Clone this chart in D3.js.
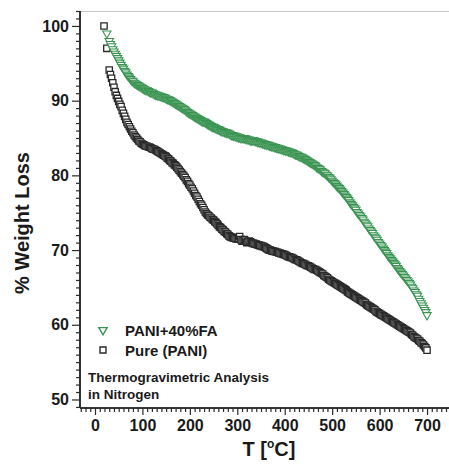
<!DOCTYPE html>
<html>
<head>
<meta charset="utf-8">
<script src="https://cdn.jsdelivr.net/npm/d3@7"></script>
<style>
  html, body { margin: 0; padding: 0; background: #fff; }
  svg { display: block; font-family: "Liberation Sans", Arial, sans-serif; }
</style>
</head>
<body>
<svg id="chart" width="449" height="470"></svg>
<script>
// Temperature grid (°C) shared by both samples
const temps = [
  30,32.5,35,37.5,40,42.5,45,47.5,50,52.5,
  55,57.5,60,62.5,65,67.5,70,72.5,75,77.5,
  80,82.5,85,87.5,90,92.5,95,97.5,100,102.5,
  105,107.5,110,112.5,115,117.5,120,122.5,125,127.5,
  130,132.5,135,137.5,140,142.5,145,147.5,150,152.5,
  155,157.5,160,162.5,165,167.5,170,172.5,175,177.5,
  180,182.5,185,187.5,190,192.5,195,197.5,200,202.5,
  205,207.5,210,212.5,215,217.5,220,222.5,225,227.5,
  230,232.5,235,237.5,240,242.5,245,247.5,250,252.5,
  255,257.5,260,262.5,265,267.5,270,272.5,275,277.5,
  280,282.5,285,287.5,290,292.5,295,297.5,300,302.5,
  305,307.5,310,312.5,315,317.5,320,322.5,325,327.5,
  330,332.5,335,337.5,340,342.5,345,347.5,350,352.5,
  355,357.5,360,362.5,365,367.5,370,372.5,375,377.5,
  380,382.5,385,387.5,390,392.5,395,397.5,400,402.5,
  405,407.5,410,412.5,415,417.5,420,422.5,425,427.5,
  430,432.5,435,437.5,440,442.5,445,447.5,450,452.5,
  455,457.5,460,462.5,465,467.5,470,472.5,475,477.5,
  480,482.5,485,487.5,490,492.5,495,497.5,500,502.5,
  505,507.5,510,512.5,515,517.5,520,522.5,525,527.5,
  530,532.5,535,537.5,540,542.5,545,547.5,550,552.5,
  555,557.5,560,562.5,565,567.5,570,572.5,575,577.5,
  580,582.5,585,587.5,590,592.5,595,597.5,600,602.5,
  605,607.5,610,612.5,615,617.5,620,622.5,625,627.5,
  630,632.5,635,637.5,640,642.5,645,647.5,650,652.5,
  655,657.5,660,662.5,665,667.5,670,672.5,675,677.5,
  680,682.5,685,687.5,690,692.5,695,697.5,700];

// Pure (PANI): first readings, then the run on the grid
const pureStartTemps = [19, 25];
const pureStartWeight = [100.0, 97.0];
const pureWeight = [
  94.1,93.5,93.0,92.4,91.8,91.2,90.7,90.3,89.9,89.5,
  89.2,88.7,88.3,87.9,87.5,87.1,86.8,86.5,86.2,85.9,
  85.7,85.4,85.2,85.0,84.8,84.6,84.5,84.3,84.2,84.1,
  84.0,83.9,83.9,83.8,83.8,83.7,83.6,83.5,83.5,83.4,
  83.3,83.2,83.1,83.0,82.9,82.8,82.7,82.6,82.5,82.3,
  82.2,82.0,81.9,81.7,81.6,81.4,81.3,81.1,80.9,80.7,
  80.5,80.3,80.1,79.9,79.7,79.4,79.2,78.9,78.7,78.4,
  78.2,77.9,77.6,77.3,77.1,76.8,76.5,76.2,76.0,75.7,
  75.4,75.1,74.9,74.7,74.6,74.4,74.3,74.1,74.0,73.8,
  73.7,73.5,73.3,73.1,73.0,72.8,72.7,72.5,72.4,72.2,
  72.1,71.9,71.8,71.7,71.7,71.6,71.6,71.5,71.5,71.6,
  71.8,71.4,71.2,71.3,71.4,71.2,71.0,71.1,71.2,71.1,
  71.0,70.9,70.9,70.8,70.8,70.7,70.7,70.6,70.6,70.5,
  70.5,70.4,70.3,70.2,70.1,70.0,70.0,69.9,69.9,69.8,
  69.8,69.7,69.7,69.6,69.6,69.5,69.5,69.4,69.4,69.3,
  69.2,69.1,69.1,69.0,69.0,68.9,68.8,68.7,68.7,68.6,
  68.5,68.4,68.3,68.2,68.2,68.1,68.0,67.9,67.9,67.8,
  67.7,67.6,67.5,67.4,67.4,67.3,67.2,67.1,67.0,66.9,
  66.8,66.6,66.5,66.4,66.3,66.1,66.0,65.9,65.8,65.7,
  65.6,65.5,65.4,65.3,65.2,65.1,65.0,64.9,64.8,64.7,
  64.6,64.4,64.3,64.2,64.1,64.0,63.9,63.8,63.7,63.6,
  63.5,63.4,63.3,63.2,63.1,63.0,62.9,62.7,62.6,62.5,
  62.4,62.3,62.2,62.1,62.0,61.8,61.7,61.6,61.5,61.4,
  61.3,61.2,61.1,61.0,60.9,60.8,60.7,60.6,60.5,60.4,
  60.3,60.2,60.1,60.0,59.9,59.8,59.7,59.6,59.5,59.4,
  59.3,59.2,59.1,59.0,58.9,58.7,58.6,58.4,58.3,58.2,
  58.1,57.9,57.8,57.6,57.5,57.3,57.1,56.9,56.6];

// PANI+40%FA: first reading, then the run on the grid
const faStartTemps = [25];
const faStartWeight = [99.0];
const faWeight = [
  98.0,97.6,97.3,96.9,96.6,96.3,96.0,95.7,95.4,95.1,
  94.8,94.5,94.3,94.0,93.8,93.5,93.3,93.1,92.9,92.7,
  92.6,92.4,92.3,92.2,92.1,92.0,91.9,91.8,91.7,91.6,
  91.5,91.4,91.4,91.3,91.2,91.1,91.1,91.0,90.9,90.8,
  90.8,90.7,90.7,90.6,90.6,90.5,90.5,90.4,90.3,90.2,
  90.2,90.1,90.0,89.9,89.8,89.7,89.6,89.5,89.4,89.3,
  89.2,89.1,89.0,88.9,88.8,88.6,88.5,88.4,88.3,88.2,
  88.1,88.0,87.9,87.8,87.7,87.6,87.5,87.4,87.3,87.2,
  87.2,87.1,87.0,86.9,86.8,86.7,86.6,86.5,86.5,86.4,
  86.3,86.2,86.2,86.1,86.0,85.9,85.9,85.8,85.8,85.7,
  85.7,85.6,85.5,85.4,85.4,85.3,85.3,85.2,85.2,85.1,
  85.1,85.0,85.0,85.0,85.0,84.9,84.9,84.8,84.8,84.7,
  84.7,84.7,84.7,84.6,84.6,84.5,84.5,84.4,84.4,84.3,
  84.3,84.2,84.2,84.1,84.1,84.0,84.0,83.9,83.9,83.8,
  83.8,83.7,83.7,83.6,83.6,83.5,83.5,83.4,83.4,83.3,
  83.3,83.2,83.2,83.1,83.1,83.0,82.9,82.8,82.8,82.7,
  82.6,82.5,82.5,82.4,82.3,82.2,82.1,82.0,81.9,81.8,
  81.7,81.6,81.5,81.4,81.3,81.1,81.0,80.9,80.8,80.6,
  80.5,80.4,80.3,80.1,80.0,79.8,79.7,79.5,79.3,79.1,
  79.0,78.8,78.6,78.4,78.3,78.1,77.9,77.7,77.5,77.3,
  77.1,76.9,76.7,76.4,76.2,76.0,75.8,75.6,75.4,75.1,
  74.9,74.7,74.5,74.3,74.1,73.8,73.6,73.4,73.2,72.9,
  72.7,72.5,72.3,72.0,71.8,71.6,71.4,71.1,70.9,70.7,
  70.5,70.2,70.0,69.8,69.6,69.3,69.1,68.9,68.7,68.5,
  68.3,68.1,67.9,67.6,67.4,67.2,67.0,66.8,66.6,66.4,
  66.2,66.0,65.8,65.6,65.4,65.1,64.9,64.6,64.4,64.1,
  63.9,63.5,63.2,62.9,62.6,62.3,62.0,61.7,61.3];

const xMajorTicks = [0,100,200,300,400,500,600,700];
const yMajorTicks = [50,60,70,80,90,100];
const seriesNames = ["PANI+40%FA", "Pure (PANI)"];

const svg = d3.select("#chart");
const plotLeft = 80, plotRight = 449, plotTop = 11, plotBottom = 408;

const x = d3.scaleLinear().domain([-31.6, 746.3]).range([plotLeft, plotRight]);
const y = d3.scaleLinear().domain([48.86, 102]).range([plotBottom, plotTop]);

const ink = "#2a2a2a";
const green = "#3a9452";

// top frame line
svg.append("line")
  .attr("x1", plotLeft).attr("x2", plotRight).attr("y1", plotTop + 0.5).attr("y2", plotTop + 0.5)
  .attr("stroke", "#c8c8c8").attr("stroke-width", 1.2);

// minor ticks
const xMinor = d3.range(-30, 750, 10).filter(v => v % 100 !== 0);
const yMinor = d3.range(49, 103, 1).filter(v => v % 10 !== 0);

const xMinorAxis = svg.append("g").attr("transform", `translate(0,${plotBottom})`)
  .call(d3.axisBottom(x).tickValues(xMinor).tickSize(4).tickFormat(""));
const yMinorAxis = svg.append("g").attr("transform", `translate(${plotLeft},0)`)
  .call(d3.axisLeft(y).tickValues(yMinor).tickSize(4).tickFormat(""));

const xAxis = svg.append("g").attr("transform", `translate(0,${plotBottom})`)
  .call(d3.axisBottom(x).tickValues(xMajorTicks).tickSize(7).tickPadding(5).tickFormat(d3.format("d")));
const yAxis = svg.append("g").attr("transform", `translate(${plotLeft},0)`)
  .call(d3.axisLeft(y).tickValues(yMajorTicks).tickSize(8).tickPadding(3).tickFormat(d3.format("d")));

[xMinorAxis, yMinorAxis, xAxis, yAxis].forEach(g => {
  g.select(".domain").attr("stroke", ink).attr("stroke-width", 1.6);
  g.selectAll(".tick line").attr("stroke", ink).attr("stroke-width", 1.2);
  g.selectAll(".tick text").attr("fill", "#1a1a1a")
    .style("font-size", "16px").style("font-weight", "bold")
    .style("font-family", "'Liberation Sans', Arial, sans-serif");
});
xMinorAxis.select(".domain").attr("d", `M${plotLeft},0H${plotRight}`);
xAxis.select(".domain").attr("d", `M${plotLeft},0H${plotRight}`);
yMinorAxis.select(".domain").attr("d", `M0,${plotTop}V${plotBottom}`);
yAxis.select(".domain").attr("d", `M0,${plotTop}V${plotBottom}`);

// axis titles
svg.append("text")
  .attr("transform", `translate(29,223) rotate(-90)`)
  .attr("text-anchor", "middle")
  .style("font-size", "20px").style("font-weight", "bold").attr("fill", "#1a1a1a")
  .text("% Weight Loss");

const xt = svg.append("text")
  .attr("x", 269).attr("y", 456)
  .attr("text-anchor", "middle")
  .style("font-size", "20px").style("font-weight", "bold").attr("fill", "#1a1a1a");
xt.append("tspan").text("T [");
xt.append("tspan").attr("dy", -8).style("font-size", "12px").text("o");
xt.append("tspan").attr("dy", 8).text("C]");

// marker shapes
const tri = d3.symbol().type(d3.symbolTriangle).size(30)();
const sq = d3.symbol().type(d3.symbolSquare).size(40)();

const pureData = pureStartTemps.map((t, i) => [t, pureStartWeight[i]])
  .concat(temps.map((t, i) => [t, pureWeight[i]]));
const faData = faStartTemps.map((t, i) => [t, faStartWeight[i]])
  .concat(temps.map((t, i) => [t, faWeight[i]]));

svg.append("g").selectAll("path").data(pureData).join("path")
  .attr("d", sq)
  .attr("transform", d => `translate(${x(d[0])},${y(d[1])})`)
  .attr("fill", "#fff").attr("stroke", ink).attr("stroke-width", 1.3);

svg.append("g").selectAll("path").data(faData).join("path")
  .attr("d", tri)
  .attr("transform", d => `translate(${x(d[0])},${y(d[1])}) rotate(180)`)
  .attr("fill", "#fff").attr("stroke", green).attr("stroke-width", 1.1);

// legend
const legend = svg.append("g");
legend.append("path").attr("d", tri)
  .attr("transform", `translate(103,330) rotate(180)`)
  .attr("fill", "#fff").attr("stroke", green).attr("stroke-width", 1.4);
legend.append("path").attr("d", d3.symbol().type(d3.symbolSquare).size(36)())
  .attr("transform", `translate(103,350)`)
  .attr("fill", "#fff").attr("stroke", ink).attr("stroke-width", 1.4);
legend.selectAll("text").data(seriesNames).join("text")
  .attr("x", 125).attr("y", (d, i) => 336 + i * 20)
  .style("font-size", "15px").style("font-weight", "bold").attr("fill", "#1a1a1a")
  .text(d => d);

// annotation
const note = svg.append("text").attr("x", 88).attr("y", 382)
  .style("font-size", "13.5px").style("font-weight", "bold").attr("fill", "#1a1a1a");
note.append("tspan").attr("x", 88).text("Thermogravimetric Analysis");
note.append("tspan").attr("x", 88).attr("dy", 17).text("in Nitrogen");
</script>
</body>
</html>
